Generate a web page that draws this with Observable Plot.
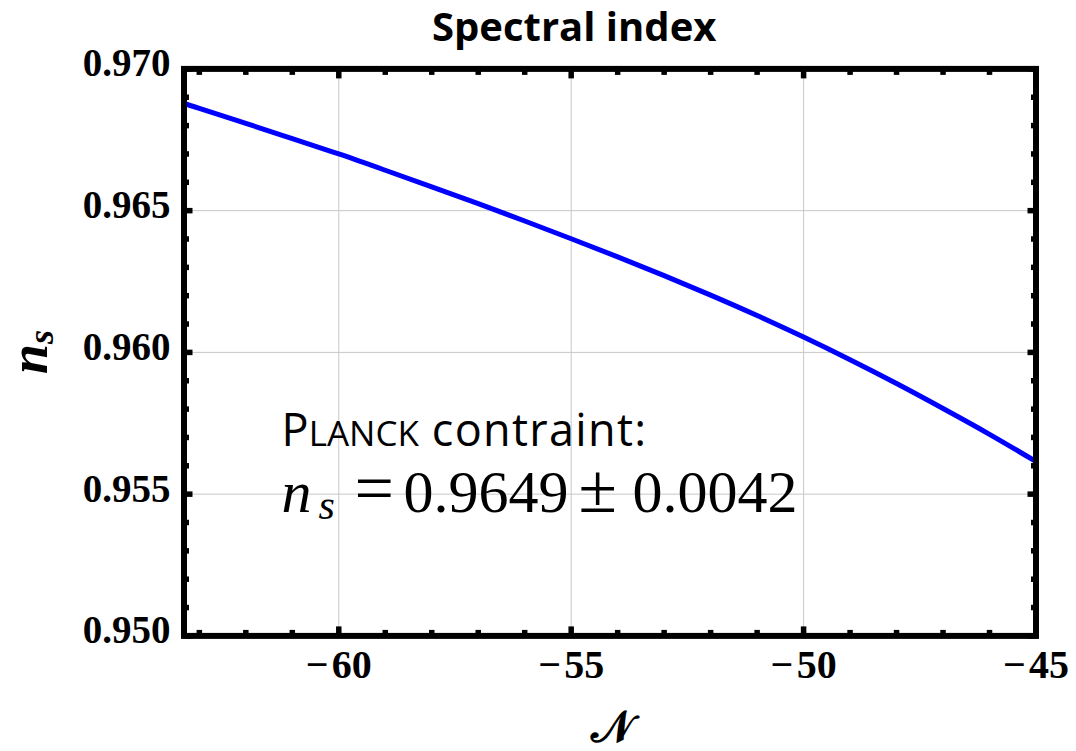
<!DOCTYPE html>
<html><head><meta charset="utf-8">
<script src="https://cdn.jsdelivr.net/npm/d3@7"></script>
<script src="https://cdn.jsdelivr.net/npm/@observablehq/plot@0.6"></script>
<style>
body{margin:0;background:#fff;}
#title{height:60px;line-height:52px;font-family:"Open Sans";font-weight:700;font-size:40px;padding-left:432px;white-space:nowrap;color:#000;}
#chart svg{display:block;}
</style></head><body>
<div id="title">Spectral index</div>
<div id="chart"></div>
<script>
// Curve: N (e-folds) vs spectral index n_s
const N  = [-63.33, -63, -62, -61, -60, -59, -58, -57, -56, -55, -54, -53, -52, -51, -50, -49, -48, -47, -46, -45];
const ns = [0.96878, 0.96861, 0.96808, 0.96754, 0.96700, 0.966425, 0.96584, 0.965245, 0.964635, 0.96401,
            0.96337, 0.96271, 0.96202, 0.96130, 0.96054, 0.95974, 0.95890, 0.95802, 0.95711, 0.95615];

const xDomain = [-63.33, -45];
const yDomain = [0.950, 0.970];
const xMajorTicks = [-60, -55, -50, -45];
const xTickLabels = ["\u2212\u200a60", "\u2212\u200a55", "\u2212\u200a50", "\u2212\u200a45"];
const xMinorTicks = [-63, -62, -61, -59, -58, -57, -56, -54, -53, -52, -51, -49, -48, -47, -46];
const xGrid = [-60, -55, -50];
const yMajorTicks = [0.950, 0.955, 0.960, 0.965, 0.970];
const yTickLabels = ["0.950", "0.955", "0.960", "0.965", "0.970"];
const yMinorTicks = [0.951, 0.952, 0.953, 0.954, 0.956, 0.957, 0.958, 0.959, 0.961, 0.962, 0.963, 0.964, 0.966, 0.967, 0.968, 0.969];
const yGrid = [0.955, 0.960, 0.965];

const annotX = -61.22;
const annotLine1Y = 0.95668;
const annotLine2Y = 0.95435;

const data = N.map((n, i) => ({n, v: ns[i]}));
const tickStyle = {strokeWidth: 5.5, tickFormat: () => "", label: null};
const labelFont = {fontFamily: "Liberation Serif", fontWeight: "bold", fill: "#000"};

const plot = Plot.plot({
  width: 1076, height: 691,
  marginLeft: 183.5, marginRight: 40.5, marginTop: 8.4, marginBottom: 115.6,
  x: {domain: xDomain},
  y: {domain: yDomain},
  style: {background: "white", overflow: "visible", color: "#000"},
  marks: [
    Plot.gridX(xGrid, {stroke: "#c8c8c8", strokeOpacity: 1, strokeWidth: 1}),
    Plot.gridY(yGrid, {stroke: "#c8c8c8", strokeOpacity: 1, strokeWidth: 1}),
    Plot.line(data, {x: "n", y: "v", stroke: "#0000ff", strokeWidth: 5, curve: "natural"}),
    ...["bottom", "top"].flatMap(a => [
      Plot.axisX(xMinorTicks, {anchor: a, tickSize: -5.5, ...tickStyle}),
      Plot.axisX(xMajorTicks, {anchor: a, tickSize: -9, ...tickStyle})
    ]),
    ...["left", "right"].flatMap(a => [
      Plot.axisY(yMinorTicks, {anchor: a, tickSize: -5.5, ...tickStyle}),
      Plot.axisY(yMajorTicks, {anchor: a, tickSize: -9, ...tickStyle})
    ]),
    Plot.axisX(xMajorTicks, {anchor: "bottom", tickSize: 0, tickPadding: 14, label: null,
      tickFormat: d => xTickLabels[xMajorTicks.indexOf(d)], fontSize: 40, ...labelFont}),
    Plot.axisY(yMajorTicks, {anchor: "left", tickSize: 0, tickPadding: 13.5, label: null, dy: -5,
      tickFormat: d => yTickLabels[yMajorTicks.indexOf(d)], fontSize: 39, ...labelFont}),
    Plot.frame({stroke: "#000", strokeWidth: 6})
  ]
});
document.getElementById("chart").appendChild(plot);

const svg = d3.select(plot);
const sx = plot.scale("x"), sy = plot.scale("y");

// y-axis label n_s (rotated)
const yl = svg.append("text")
  .attr("transform", `translate(47, ${(sy.apply(yDomain[0]) + sy.apply(yDomain[1])) / 2}) rotate(-90)`)
  .attr("text-anchor", "middle")
  .attr("font-family", "Liberation Serif").attr("font-weight", "bold").attr("font-style", "italic")
  .attr("font-size", 54).attr("fill", "#000");
yl.append("tspan").text("n");
yl.append("tspan").attr("font-size", 36).attr("dy", 6).text("s");

// x-axis label (calligraphic N)
svg.append("text")
  .attr("x", 612).attr("y", 682)
  .attr("text-anchor", "middle")
  .attr("font-family", "DejaVu Serif, DejaVu Sans, serif").attr("font-weight", "bold")
  .attr("font-size", 44).attr("fill", "#000")
  .text("\u{1D4A9}");

// Annotation
const ax = sx.apply(annotX);
const y1 = sy.apply(annotLine1Y), y2 = sy.apply(annotLine2Y);
const t1 = svg.append("text").attr("x", ax).attr("y", y1).attr("text-anchor", "start")
  .attr("font-family", "Open Sans").attr("font-size", 45).attr("fill", "#000");
t1.append("tspan").text("P");
t1.append("tspan").attr("font-size", 35).text("LANCK");
t1.append("tspan").attr("letter-spacing", 1.3).text(" contraint:");

const t2 = svg.append("text").attr("x", ax).attr("y", y2).attr("text-anchor", "start")
  .attr("font-family", "Liberation Serif").attr("font-size", 60).attr("fill", "#000");
t2.append("tspan").attr("font-style", "italic").text("n");
t2.append("tspan").attr("x", ax + 37).attr("y", y2 + 7).attr("font-style", "italic").attr("font-size", 42).text("s");
t2.append("tspan").attr("x", ax + 73).attr("y", y2).attr("font-size", 70).text("=");
t2.append("tspan").attr("x", ax + 122).attr("y", y2).text("0.9649");
t2.append("tspan").attr("x", ax + 297).attr("y", y2).attr("font-size", 70).text("\u00B1");
t2.append("tspan").attr("x", ax + 351).attr("y", y2).text("0.0042");
</script>
</body></html>
